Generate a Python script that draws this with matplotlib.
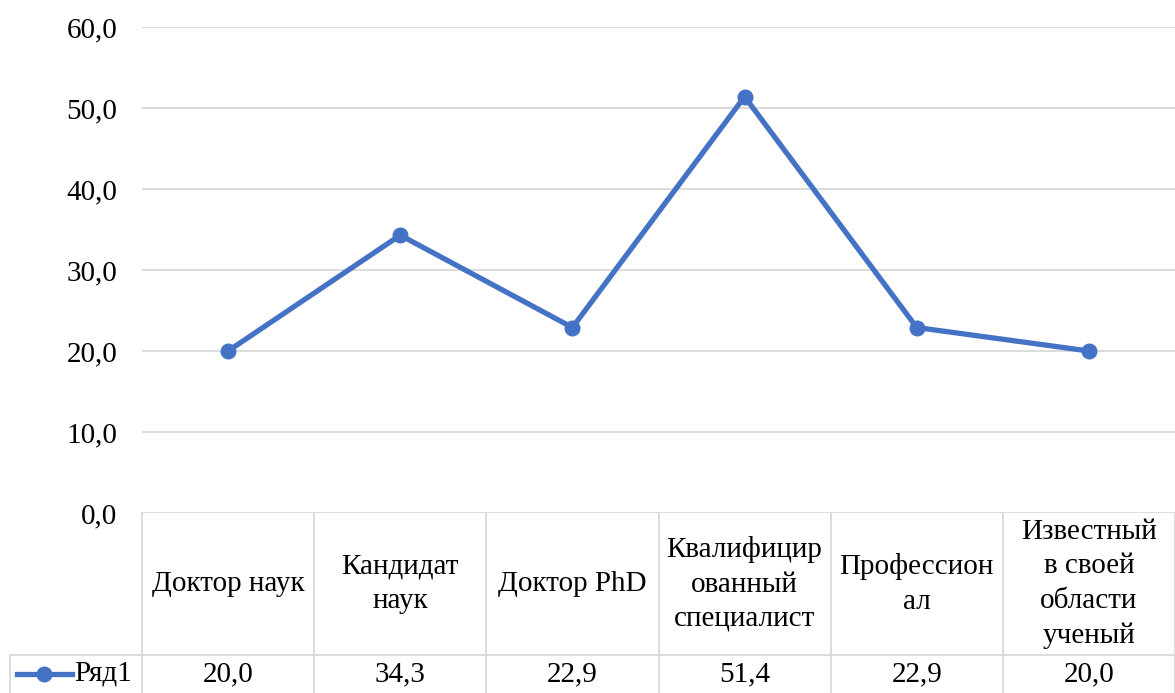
import matplotlib
matplotlib.use("Agg")
import matplotlib.pyplot as plt

plt.rcParams['font.family'] = ['Liberation Serif', 'DejaVu Serif']

categories = ["Доктор наук", "Кандидат\nнаук", "Доктор PhD", "Квалифицир\nованный\nспециалист",
              "Профессион\nал", "Известный\nв своей\nобласти\nученый"]
values = [20.0, 34.3, 22.9, 51.4, 22.9, 20.0]
series_name = "Ряд1"
yticks = [0, 10, 20, 30, 40, 50, 60]

blue = "#4472C4"
grid_c = "#D9D9D9"
fs = 21

W, H = 1175, 693
fig = plt.figure(figsize=(W / 100, H / 100), dpi=100)
ax = fig.add_axes([142 / W, 1 - 513 / H, 1 - 142 / W, (513 - 27) / H])

x = list(range(len(values)))
ax.plot(x, values, color=blue, lw=3.8, marker='o', ms=10.5, zorder=3)
ax.set_xlim(-0.5, len(values) - 0.5)
ax.set_ylim(0, 60)
ax.set_yticks(yticks)
ax.set_yticklabels([f"{v:.1f}".replace('.', ',') for v in yticks], fontsize=fs)
ax.set_xticks([])
ax.tick_params(axis='y', length=0, pad=18)
for s in ax.spines.values():
    s.set_visible(False)
for v in yticks:
    ax.axhline(v, color=grid_c, lw=1.3, zorder=1)

# data table below the plot
px = 486.0  # axes height in pixels
y_top = 0
y_mid = -(655 - 513) / px
y_bot = -(693 - 513) / px
tr = ax.get_xaxis_transform()
x_left = (10 - 142) / ((W - 142) / len(values)) - 0.5
lk = dict(color=grid_c, lw=1.3, transform=tr, clip_on=False)
for i in range(len(values) + 1):
    ax.plot([i - 0.5, i - 0.5], [y_top, y_bot], **lk)
ax.plot([x_left, len(values) - 0.5], [y_mid, y_mid], **lk)
ax.plot([x_left, x_left], [y_mid, y_bot], **lk)

for i, (c, v) in enumerate(zip(categories, values)):
    ax.text(i, (y_top + y_mid) / 2, c, transform=tr, ha='center', va='center',
            fontsize=fs, linespacing=1.42)
    ax.text(i, (y_mid + y_bot) / 2, f"{v:.1f}".replace('.', ','), transform=tr,
            ha='center', va='center', fontsize=fs)

# legend key in table
ky = (y_mid + y_bot) / 2
cw = (W - 142) / len(values)
k0 = (17 - 142) / cw - 0.5
k1 = (72 - 142) / cw - 0.5
ax.plot([k0, k1], [ky, ky], color=blue, lw=3.8, transform=tr, clip_on=False)
ax.plot([(k0 + k1) / 2], [ky], marker='o', ms=10.5, color=blue, transform=tr, clip_on=False)
ax.text((74 - 142) / cw - 0.5, ky, series_name, transform=tr, ha='left', va='center', fontsize=fs)

fig.savefig("out.png", dpi=100)
